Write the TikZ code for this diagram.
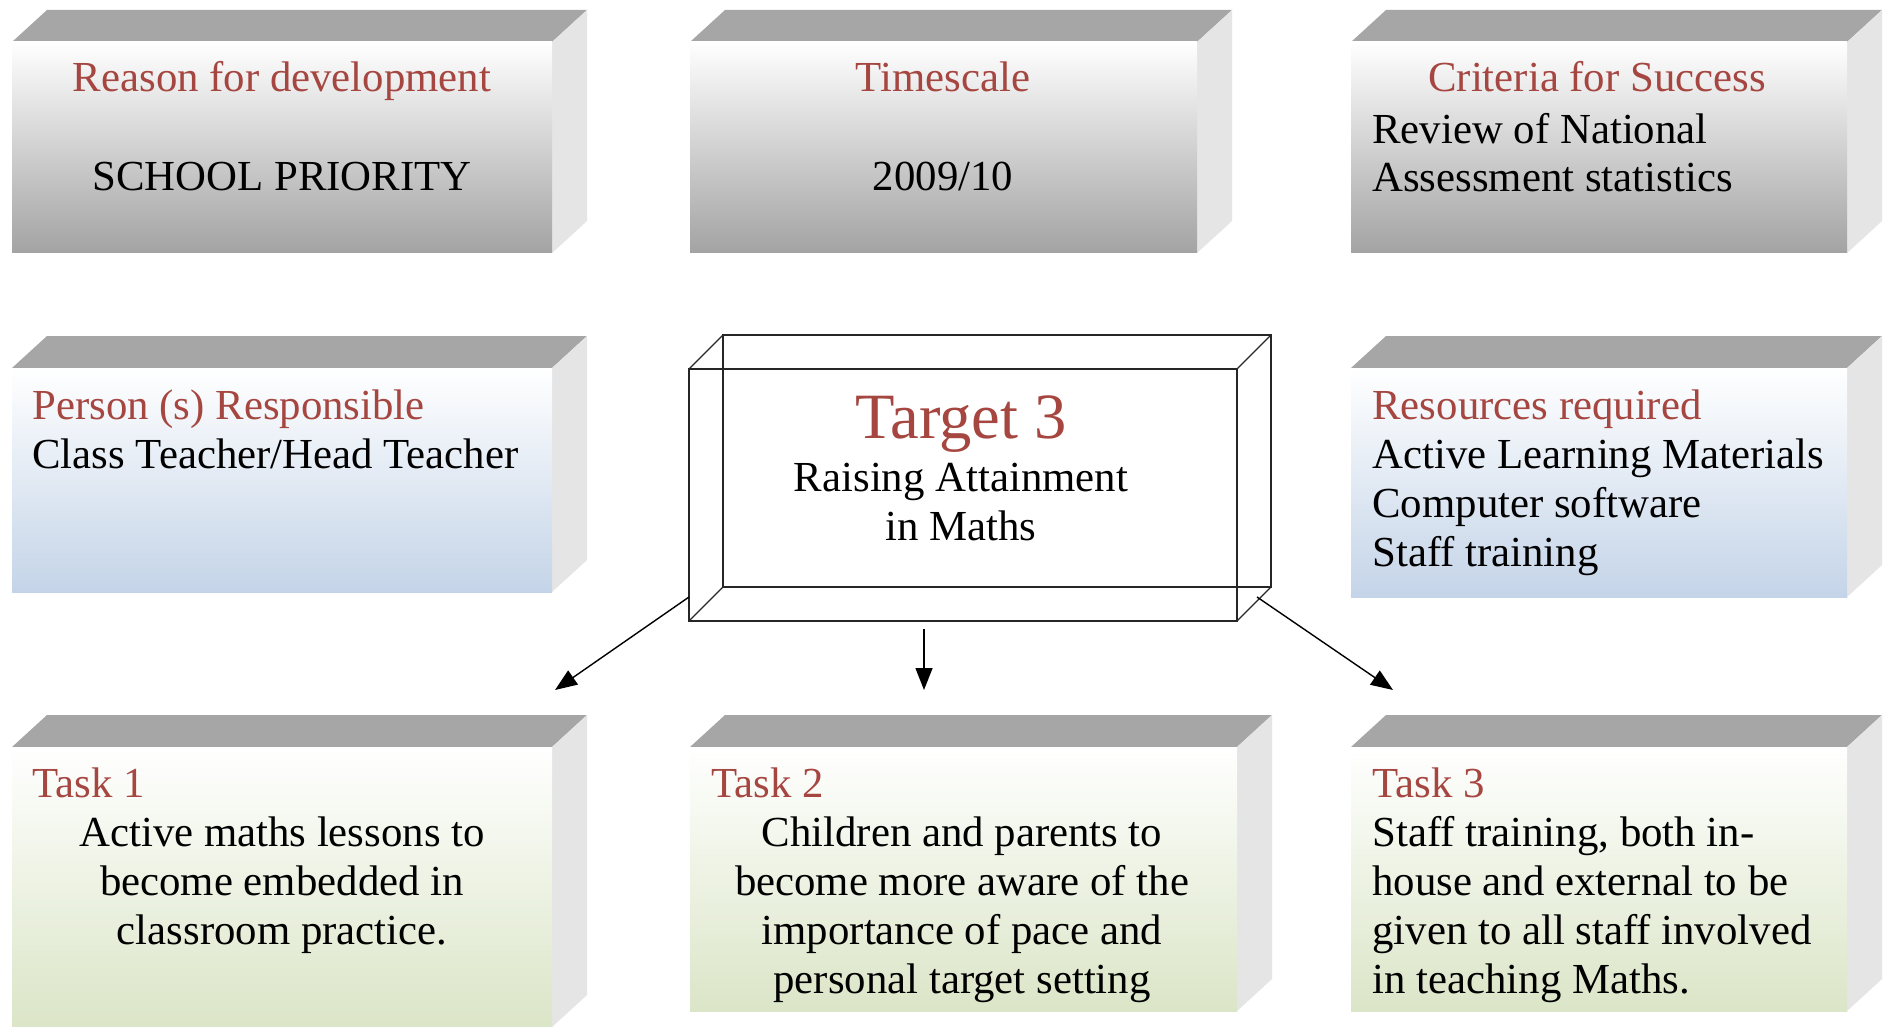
\documentclass[tikz,border=0pt]{standalone}
\usepackage{fontspec}
\setmainfont{Liberation Serif}
\usetikzlibrary{arrows.meta}
\definecolor{titlered}{RGB}{166,70,64}
\definecolor{topgray}{RGB}{166,166,166}
\definecolor{sidegray}{RGB}{229,229,229}
\definecolor{shgray}{RGB}{163,163,163}
\definecolor{shblue}{RGB}{196,212,232}
\definecolor{shgreen}{RGB}{219,229,199}
\newcommand\bodyfs{\fontsize{21.4pt}{24.5pt}\selectfont}
\newcommand\bigfs{\fontsize{32.3pt}{36pt}\selectfont}
% #1 name, #2 x1, #3 y1, #4 x2, #5 y2, #6 shade colour (pixel units, y downwards)
\newcommand\cubebox[6]{%
  \fill[topface] (#2,#3) -- (#2+35,#3-32) -- (#4+35,#3-32) -- (#4,#3) -- cycle;
  \fill[sideface] (#4,#3) -- (#4+35,#3-32) -- (#4+35,#5-32) -- (#4,#5) -- cycle;
  \node[frontface, bottom color=#6, minimum width={(#4-#2)*0.5pt}, minimum height={(#5-#3)*0.5pt}] (#1) at (#2,#3) {};
}
\begin{document}
\begin{tikzpicture}[x=0.5pt,y=-0.5pt,
  topface/.style={fill=topgray},
  sideface/.style={fill=sidegray},
  frontface/.style={anchor=north west, inner sep=0pt, outer sep=0pt, rectangle, top color=white},
  txt/.style={inner sep=0pt, font=\bodyfs, text=black},
  ttl/.style={txt, text=titlered},
  wire/.style={draw=black!85, line width=0.6pt},
  arr/.style={-{Triangle[length=11pt,width=8.5pt]}, line width=0.7pt, draw=black}]
\useasboundingbox (0,0) rectangle (1883,1027);
\fill[white] (0,0) rectangle (1883,1027);

% top row
\cubebox{reason}{12}{42}{552}{253}{shgray}
\cubebox{time}{690}{42}{1197}{253}{shgray}
\cubebox{crit}{1351}{42}{1847}{253}{shgray}
% middle row
\cubebox{person}{12}{368}{552}{592}{shblue}
\cubebox{res}{1351}{368}{1847}{597}{shblue}
% bottom row
\cubebox{task1}{12}{747}{552}{1027}{shgreen}
\cubebox{task2}{690}{747}{1237}{1011}{shgreen}
\cubebox{task3}{1351}{747}{1847}{1011}{shgreen}

% target wireframe box
\node[wire, anchor=north west, inner sep=0pt, outer sep=0pt, minimum width={(1237-689)*0.5pt}, minimum height={(621-369)*0.5pt}] (target) at (689,369) {};
\coordinate (bnw) at ([shift={(17pt,17pt)}]target.north west);
\coordinate (bne) at ([shift={(17pt,17pt)}]target.north east);
\coordinate (bsw) at ([shift={(17pt,17pt)}]target.south west);
\coordinate (bse) at ([shift={(17pt,17pt)}]target.south east);
\draw[wire] (bnw) -- (bne) -- (bse) -- (bsw) -- cycle;
\draw[wire] (target.north west) -- (bnw);
\draw[wire] (target.north east) -- (bne);
\draw[wire] (target.south west) -- (bsw);
\draw[wire] (target.south east) -- (bse);

% texts (multi-line nodes: base anchor = baseline of last line)
\node[ttl, anchor=base] (reasonT) at (282,92) {Reason for development};
\node[txt, anchor=base] (reasonB) at (282,191) {SCHOOL PRIORITY};
\node[ttl, anchor=base] (timeT) at (943,92) {Timescale};
\node[txt, anchor=base] (timeB) at (943,191) {2009/10};
\node[ttl, anchor=base] (critT) at (1597,92) {Criteria for Success};
\node[txt, anchor=base west, align=left] (critB) at (1372,192) {Review of National\\Assessment statistics};

\node[txt, anchor=base west, align=left] (personT) at (32,468) {\textcolor{titlered}{Person (s) Responsible}\\Class Teacher/Head Teacher};
\node[ttl, anchor=base, font=\bigfs] (targetT) at (961,438) {Target 3};
\node[txt, anchor=base, align=center] (targetB) at (961,540) {Raising Attainment\\in Maths};
\node[txt, anchor=base west, align=left] (resT) at (1372,566) {\textcolor{titlered}{Resources required}\\Active Learning Materials\\Computer software\\Staff training};

\node[ttl, anchor=base west] (task1T) at (32,797) {Task 1};
\node[txt, anchor=base, align=center] (task1B) at (282,944) {Active maths lessons to\\become embedded in\\classroom practice.};
\node[ttl, anchor=base west] (task2T) at (711,797) {Task 2};
\node[txt, anchor=base, align=center] (task2B) at (962,993) {Children and parents to\\become more aware of the\\importance of pace and\\personal target setting};
\node[txt, anchor=base west, align=left] (task3T) at (1372,993) {\textcolor{titlered}{Task 3}\\Staff training, both in-\\house and external to be\\given to all staff involved\\in teaching Maths.};

% arrows
\coordinate (e1) at (555,690);
\coordinate (e2) at (924,690);
\coordinate (e3) at (1393,690);
\draw[arr] ([yshift=12pt]target.south west) -- (e1);
\draw[arr] ([xshift=-19.5pt,yshift=-4pt]target.south) -- (e2);
\draw[arr] ([xshift=10pt,yshift=12pt]target.south east) -- (e3);
\end{tikzpicture}
\end{document}
